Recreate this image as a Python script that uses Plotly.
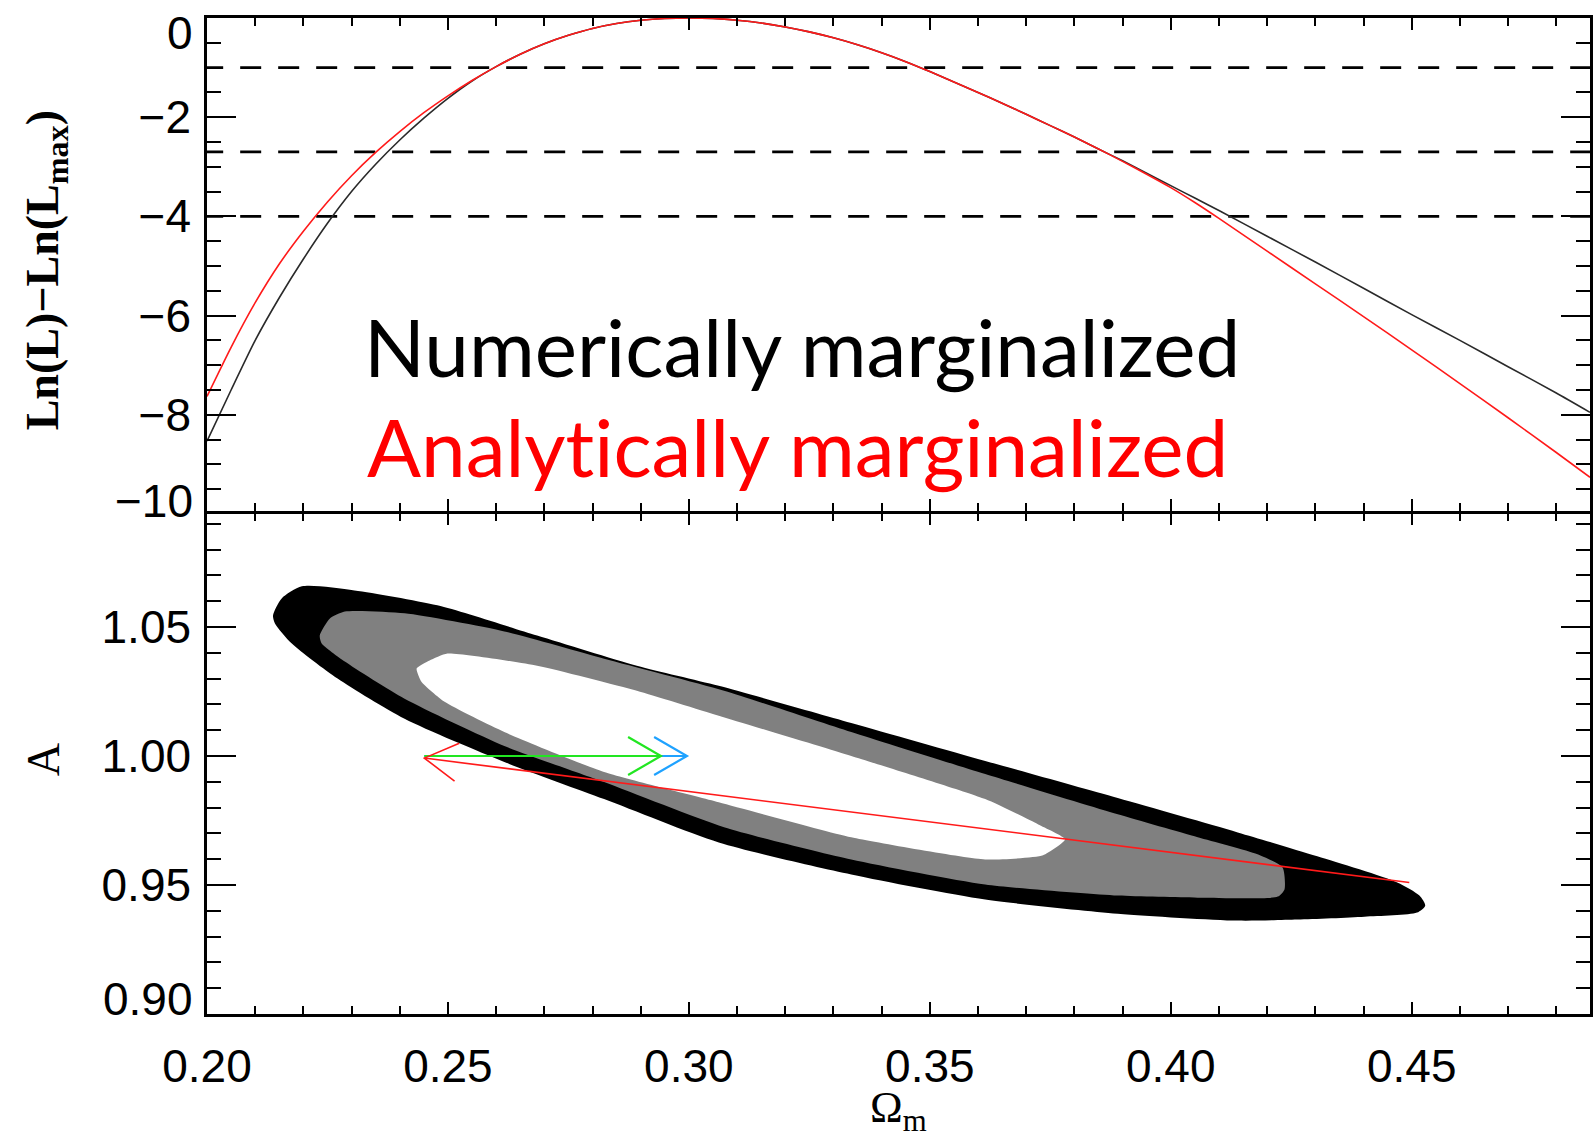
import math
import plotly.graph_objects as go

# ---------------- data ----------------
# Top panel: ln(L) - ln(Lmax) versus Omega_m
omega_num = [0.200, 0.205, 0.210, 0.215, 0.220, 0.225, 0.230, 0.235, 0.240, 0.245, 0.250, 0.255,
             0.260, 0.265, 0.270, 0.275, 0.280, 0.285, 0.290, 0.295, 0.300, 0.305, 0.310, 0.315,
             0.320, 0.325, 0.330, 0.335, 0.340, 0.345, 0.350, 0.355, 0.360, 0.365, 0.370, 0.375,
             0.380, 0.385, 0.390, 0.395, 0.400, 0.405, 0.410, 0.420, 0.430, 0.440, 0.450, 0.460,
             0.470, 0.480, 0.487]
lnL_num = [-8.53, -7.50, -6.50, -5.64, -4.86, -4.14, -3.50, -2.95, -2.46, -2.02, -1.62, -1.27,
           -0.98, -0.73, -0.52, -0.35, -0.21, -0.11, -0.045, -0.01, 0.00, -0.01, -0.045, -0.10,
           -0.18, -0.28, -0.40, -0.54, -0.70, -0.88, -1.08, -1.29, -1.50, -1.72, -1.94, -2.17,
           -2.40, -2.64, -2.88, -3.13, -3.38, -3.63, -3.88, -4.40, -4.92, -5.45, -5.98, -6.50,
           -7.03, -7.56, -7.95]
omega_ana = [0.200, 0.205, 0.210, 0.215, 0.220, 0.225, 0.230, 0.235, 0.240, 0.245, 0.250, 0.255,
             0.260, 0.265, 0.270, 0.275, 0.280, 0.285, 0.290, 0.295, 0.300, 0.305, 0.310, 0.315,
             0.320, 0.325, 0.330, 0.335, 0.340, 0.345, 0.350, 0.355, 0.360, 0.365, 0.370, 0.375,
             0.380, 0.385, 0.390, 0.395, 0.400, 0.405, 0.410, 0.420, 0.430, 0.440, 0.450, 0.460,
             0.470, 0.480, 0.487]
lnL_ana = [-7.63, -6.64, -5.74, -4.96, -4.30, -3.71, -3.18, -2.71, -2.29, -1.91, -1.57, -1.26,
           -0.98, -0.73, -0.52, -0.35, -0.21, -0.11, -0.045, -0.01, 0.00, -0.01, -0.045, -0.10,
           -0.18, -0.28, -0.40, -0.54, -0.70, -0.88, -1.08, -1.29, -1.50, -1.72, -1.94, -2.17,
           -2.40, -2.64, -2.89, -3.15, -3.42, -3.72, -4.04, -4.70, -5.36, -6.02, -6.69, -7.37,
           -8.06, -8.76, -9.26]
levels = [-1.0, -2.7, -4.0]
level_span = [0.199, 0.490]

# Bottom panel: confidence regions in (Omega_m, A)
outer_om = [0.2137, 0.2155, 0.2197, 0.2306, 0.2478, 0.2685, 0.2892, 0.3062, 0.3337, 0.3615,
            0.3890, 0.4139, 0.4304, 0.4470, 0.4516, 0.4528, 0.4511, 0.4402, 0.4263, 0.4139,
            0.3890, 0.3615, 0.3337, 0.3062, 0.2824, 0.2617, 0.2410, 0.2271, 0.2176, 0.2141]
outer_A = [1.0545, 1.0611, 1.0658, 1.0642, 1.0584, 1.0467, 1.0350, 1.0272, 1.0128, 0.9981,
           0.9837, 0.9704, 0.9611, 0.9510, 0.9459, 0.9420, 0.9393, 0.9377, 0.9366, 0.9362,
           0.9389, 0.9444, 0.9541, 0.9665, 0.9833, 0.9977, 1.0144, 1.0300, 1.0436, 1.0514]
mid_om = [0.2234, 0.2255, 0.2286, 0.2410, 0.2617, 0.2824, 0.3073, 0.3337, 0.3615, 0.3890,
          0.4056, 0.4180, 0.4232, 0.4236, 0.4222, 0.4056, 0.3890, 0.3615, 0.3337, 0.3073,
          0.2824, 0.2617, 0.2410, 0.2286, 0.2238]
mid_A = [1.0467, 1.0533, 1.0560, 1.0553, 1.0483, 1.0377, 1.0253, 1.0093, 0.9930, 0.9774,
         0.9685, 0.9619, 0.9568, 0.9483, 0.9455, 0.9451, 0.9459, 0.9502, 0.9599, 0.9724,
         0.9899, 1.0039, 1.0222, 1.0366, 1.0436]
inner_om = [0.2435, 0.2462, 0.2499, 0.2685, 0.2892, 0.3062, 0.3337, 0.3615, 0.3725, 0.3781,
            0.3735, 0.3615, 0.3337, 0.3062, 0.2824, 0.2617, 0.2493, 0.2445]
inner_A = [1.0339, 1.0370, 1.0397, 1.0350, 1.0253, 1.0156, 1.0000, 0.9833, 0.9735, 0.9677,
           0.9615, 0.9599, 0.9685, 0.9821, 0.9938, 1.0093, 1.0210, 1.0288]

# Arrows (tail -> tip)
red_arrow = [(0.4495, 0.9510), (0.2451, 0.9992)]
blue_arrow = [(0.2451, 1.0000), (0.2996, 1.0000)]
green_arrow = [(0.2451, 1.0000), (0.2942, 1.0000)]

x_ticks = [0.20, 0.25, 0.30, 0.35, 0.40, 0.45]
x_ticklabels = ["0.20", "0.25", "0.30", "0.35", "0.40", "0.45"]
top_ticks = [-8, -6, -4, -2]
top_ticklabels = ["\u22128", "\u22126", "\u22124", "\u22122"]
bot_ticks = [0.95, 1.00, 1.05]
bot_ticklabels = ["0.95", "1.00", "1.05"]

# ---------------- layout geometry ----------------
W, H = 1593, 1140
ML, MR, MT, MB = 207, 0, 18, 126
XR = [0.2, 0.487]
TOP_YR = [-9.94, 0.0]
BOT_YR = [0.90, 1.094]
plot_w = W - ML - MR
plot_h = H - MT - MB
SPLIT = 0.5025
GAP = 2.5 / plot_h          # lets the two panels' shared border lines coincide
kx = plot_w / (XR[1] - XR[0])
ky_bot = plot_h * SPLIT / (BOT_YR[1] - BOT_YR[0])

TICKFONT = dict(family="Liberation Sans, Arial, sans-serif", size=46, color="black")
AXCOL = "black"


def arrow_head(tail, tip, length=38, half_angle=30):
    """Open V arrow head at tip, computed in pixel space."""
    dx = (tip[0] - tail[0]) * kx
    dy = (tip[1] - tail[1]) * ky_bot
    ang = math.atan2(dy, dx)
    xs, ys = [], []
    for s in (1, -1):
        a = ang + s * math.radians(half_angle)
        xs.append(tip[0] - length * math.cos(a) / kx)
        ys.append(tip[1] - length * math.sin(a) / ky_bot)
    return [xs[0], tip[0], xs[1]], [ys[0], tip[1], ys[1]]


fig = go.Figure()

# Bottom panel contours
fig.add_trace(go.Scatter(x=outer_om + [outer_om[0]], y=outer_A + [outer_A[0]], mode="lines",
                         fill="toself", fillcolor="black", line=dict(width=0, shape="spline", smoothing=0.7),
                         xaxis="x", yaxis="y", hoverinfo="skip", showlegend=False))
fig.add_trace(go.Scatter(x=mid_om + [mid_om[0]], y=mid_A + [mid_A[0]], mode="lines",
                         fill="toself", fillcolor="#808080", line=dict(width=0, shape="spline", smoothing=0.6),
                         xaxis="x", yaxis="y", hoverinfo="skip", showlegend=False))
fig.add_trace(go.Scatter(x=inner_om + [inner_om[0]], y=inner_A + [inner_A[0]], mode="lines",
                         fill="toself", fillcolor="white", line=dict(width=0, shape="spline", smoothing=0.5),
                         xaxis="x", yaxis="y", hoverinfo="skip", showlegend=False))

# Arrows
for arr, col, w in ((blue_arrow, "#1fa2ff", 2.2), (green_arrow, "#22e622", 2.2), (red_arrow, "#ff1a1a", 1.6)):
    (x0, y0), (x1, y1) = arr
    fig.add_trace(go.Scatter(x=[x0, x1], y=[y0, y1], mode="lines", line=dict(color=col, width=w),
                             xaxis="x", yaxis="y", hoverinfo="skip", showlegend=False))
    hx, hy = arrow_head(arr[0], arr[1])
    fig.add_trace(go.Scatter(x=hx, y=hy, mode="lines", line=dict(color=col, width=w),
                             xaxis="x", yaxis="y", hoverinfo="skip", showlegend=False))

# Top panel
for lev in levels:
    fig.add_trace(go.Scatter(x=level_span, y=[lev, lev], mode="lines",
                             line=dict(color="black", width=2.6, dash="21px,17px"),
                             xaxis="x2", yaxis="y2", hoverinfo="skip", showlegend=False))
fig.add_trace(go.Scatter(x=omega_num, y=lnL_num, mode="lines",
                         line=dict(color="#2a2a2a", width=1.6, shape="spline", smoothing=0.6),
                         xaxis="x2", yaxis="y2", showlegend=False))
fig.add_trace(go.Scatter(x=omega_ana, y=lnL_ana, mode="lines",
                         line=dict(color="#ff1a1a", width=1.6, shape="spline", smoothing=0.6),
                         xaxis="x2", yaxis="y2", showlegend=False))

common_x = dict(range=XR, ticks="inside", ticklen=12, tickwidth=2, tickcolor=AXCOL,
                showline=True, linewidth=2.5, linecolor=AXCOL, mirror="allticks",
                showgrid=False, zeroline=False, tickvals=x_ticks,
                minor=dict(ticks="inside", ticklen=8, tickwidth=2, tickcolor=AXCOL, dtick=0.01, tick0=0.2,
                           showgrid=False))

fig.update_layout(
    width=W, height=H,
    margin=dict(l=ML, r=MR, t=MT, b=MB),
    paper_bgcolor="white", plot_bgcolor="white",
    xaxis=dict(common_x, domain=[0, 1], anchor="y", ticktext=x_ticklabels, tickfont=TICKFONT,
               ticklabelstandoff=10),
    yaxis=dict(domain=[0, SPLIT], anchor="x", range=BOT_YR, ticks="inside", ticklen=29, tickwidth=2,
               tickcolor=AXCOL, showline=True, linewidth=2.5, linecolor=AXCOL, mirror="allticks",
               showgrid=False, zeroline=False, tickvals=bot_ticks, ticktext=bot_ticklabels,
               tickfont=TICKFONT, ticklabelstandoff=4,
               minor=dict(ticks="inside", ticklen=14, tickwidth=2, tickcolor=AXCOL, dtick=0.01, tick0=0.9,
                          showgrid=False)),
    xaxis2=dict(common_x, domain=[0, 1], anchor="y2", showticklabels=False),
    yaxis2=dict(domain=[SPLIT + GAP, 1], anchor="x2", range=TOP_YR, ticks="inside", ticklen=29, tickwidth=2,
                tickcolor=AXCOL, showline=True, linewidth=2.5, linecolor=AXCOL, mirror="allticks",
                showgrid=False, zeroline=False, tickvals=top_ticks, ticktext=top_ticklabels,
                tickfont=TICKFONT, ticklabelstandoff=4,
                minor=dict(ticks="inside", ticklen=14, tickwidth=2, tickcolor=AXCOL, dtick=0.5, tick0=0,
                           showgrid=False)),
)

ann = []
# end tick labels (drawn slightly inside the panel as in the original)
ann.append(dict(text="0", xref="paper", yref="y2", x=0, y=TOP_YR[1], xanchor="right", yanchor="middle",
                xshift=-12, yshift=-15, showarrow=False, font=TICKFONT))
ann.append(dict(text="\u221210", xref="paper", yref="y2", x=0, y=TOP_YR[0], xanchor="right", yanchor="middle",
                xshift=-12, yshift=10, showarrow=False, font=TICKFONT))
ann.append(dict(text="0.90", xref="paper", yref="y", x=0, y=BOT_YR[0], xanchor="right", yanchor="middle",
                xshift=-12, yshift=15, showarrow=False, font=TICKFONT))
# axis titles
SERIF = "Liberation Serif, Times New Roman, serif"
ann.append(dict(text="<b>Ln(L)\u2212Ln(L<sub>max</sub>)</b>", xref="paper", yref="paper",
                x=(46 - ML) / plot_w, y=(H - MB - 270) / plot_h, xanchor="center", yanchor="middle",
                textangle=-90, showarrow=False, font=dict(family=SERIF, size=46, color="black")))
ann.append(dict(text="A", xref="paper", yref="paper",
                x=(44 - ML) / plot_w, y=(H - MB - 760) / plot_h, xanchor="center", yanchor="middle",
                textangle=-90, showarrow=False, font=dict(family=SERIF, size=46, color="black")))
ann.append(dict(text="\u03a9<sub>m</sub>", xref="paper", yref="paper",
                x=0.5, y=(H - MB - 1110) / plot_h, xanchor="center", yanchor="middle",
                showarrow=False, font=dict(family=SERIF, size=44, color="black")))
# in-plot labels
BIG = dict(family="Lato, Open Sans, sans-serif", size=80)
ann.append(dict(text="Numerically marginalized", xref="paper", yref="paper",
                x=(803 - ML) / plot_w, y=(H - MB - 346) / plot_h, xanchor="center", yanchor="middle",
                showarrow=False, font=dict(BIG, color="black")))
ann.append(dict(text="Analyt\u200cically marginalized", xref="paper", yref="paper",
                x=(799 - ML) / plot_w, y=(H - MB - 446) / plot_h, xanchor="center", yanchor="middle",
                showarrow=False, font=dict(BIG, color="#ff0000")))
fig.update_layout(annotations=ann)

fig.write_html("out.html", config={"displayModeBar": False},
               post_script="document.body.style.margin='0px';document.body.style.overflow='hidden';")
